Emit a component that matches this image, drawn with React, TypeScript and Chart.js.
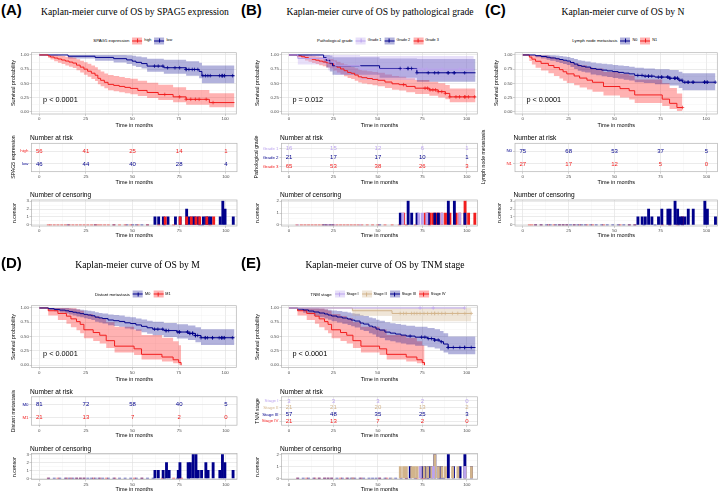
import React, { useEffect, useRef } from 'react';
import { Chart, registerables } from 'chart.js';

Chart.register(...registerables);

const SANS = '"Liberation Sans", Arial, Helvetica, sans-serif';
const SERIF = '"Liberation Serif", "Times New Roman", Times, serif';

// ---------- shared axes ----------
const X_MIN = -4.2;
const X_MAX = 106;
const timeTicks = [0, 12.5, 25, 37.5, 50, 62.5, 75, 87.5, 100];
const survTicks = [0, 0.125, 0.25, 0.375, 0.5, 0.625, 0.75, 0.875, 1];
const riskTimes = [0, 25, 50, 75, 100];

// ---------- (A) SPAG5 expression ----------
const highT = [0, 4.8, 6, 8, 10, 12, 14, 16, 18, 20, 22, 24, 26, 28, 30, 31.5, 33, 35, 37, 40, 43, 46, 49, 53, 58, 64, 72, 79, 91.5, 105];
const highS = [1, .982, .964, .946, .929, .911, .893, .875, .857, .821, .786, .75, .714, .679, .643, .589, .554, .518, .482, .464, .446, .429, .411, .375, .339, .304, .262, .219, .161, .161];
const highUp = [1, 1, 1, .998, .99, .98, .97, .96, .95, .925, .9, .872, .845, .815, .785, .74, .71, .675, .645, .628, .612, .596, .58, .545, .51, .475, .43, .385, .325, .325];
const highLo = [1, .948, .918, .89, .864, .84, .816, .793, .77, .73, .69, .653, .615, .578, .54, .485, .45, .413, .378, .36, .343, .326, .31, .275, .24, .205, .165, .125, .08, .08];
const highCens = [67.5, 75.5, 79, 81.5, 84, 86, 89.8, 93.5];
const highRisk = [56, 41, 25, 14, 1];

const lowT = [0, 15.5, 30, 40, 47, 50, 52, 55, 58, 67, 79, 86, 87.5, 105];
const lowS = [1, .978, .957, .935, .913, .891, .87, .848, .804, .775, .745, .71, .635, .635];
const lowUp = [1, 1, 1, 1, .995, .985, .975, .962, .935, .915, .89, .865, .815, .815];
const lowLo = [1, .936, .9, .868, .84, .812, .786, .76, .706, .67, .635, .59, .5, .5];
const lowCens = [62, 64, 66.5, 69, 73, 75.5, 79, 79, 80.5, 82.3, 83.5, 85.3, 88, 89.4, 90.7, 92, 97, 98.4, 98.4, 98.4, 99.6, 99.6, 104];
const lowRisk = [46, 44, 40, 28, 4];

// ---------- (B) Pathological grade ----------
const g1T = [0, 5, 22, 26, 40, 104];
const g1S = [1, .938, .875, .813, .75, .75];
const g1Up = [1, 1, 1, 1, .98, .98];
const g1Lo = [1, .83, .73, .65, .56, .56];
const g1Cens = [64, 73, 75, 77.5, 86, 96];
const g1Risk = [16, 15, 12, 6, 1];

const g2T = [0, 19.5, 21, 23, 24.5, 51, 72, 105];
const g2S = [1, .952, .905, .857, .81, .762, .686, .686];
const g2Up = [1, 1, 1, .99, .96, .94, .93, .93];
const g2Lo = [1, .86, .78, .71, .65, .6, .53, .53];
const g2Cens = [62.6, 67, 67, 69, 72, 78.4, 82, 84, 89.6, 89.6, 93, 93, 98.9];
const g2Risk = [21, 17, 17, 10, 1];

const g3T = [0, 4.5, 7, 9, 11, 13, 15, 17, 19, 21, 23, 25, 27, 29, 31, 33, 35, 37, 39, 41, 44, 47, 50, 54, 58, 62, 66, 71, 79, 84, 88, 90.5, 105];
const g3S = [1, .985, .969, .954, .938, .923, .908, .892, .877, .862, .846, .815, .785, .754, .723, .692, .677, .646, .615, .6, .585, .569, .554, .523, .492, .477, .446, .415, .385, .354, .323, .262, .262];
const g3Up = [1, 1, 1, .998, .99, .982, .973, .963, .952, .94, .93, .905, .88, .855, .83, .805, .79, .765, .74, .727, .713, .7, .685, .657, .63, .616, .588, .56, .53, .5, .47, .41, .41];
const g3Lo = [1, .955, .928, .904, .882, .86, .84, .82, .8, .78, .762, .727, .693, .66, .627, .594, .578, .546, .514, .498, .482, .466, .45, .418, .388, .372, .342, .312, .28, .25, .22, .165, .165];
const g3Cens = [64.5, 76.6, 78, 79.4, 81, 82.5, 84, 86, 88, 90.5, 94, 96, 99, 99, 101, 104.5];
const g3Risk = [65, 53, 38, 26, 3];

// ---------- (C) N ----------
const n0T = [0, 7, 10, 13, 15, 18, 20, 22, 24, 26, 28, 30, 32, 34, 37, 40, 43, 46, 49, 52, 55, 58, 61, 66, 72, 80, 85, 87, 105];
const n0S = [1, .987, .973, .96, .947, .933, .92, .907, .893, .867, .84, .813, .8, .787, .76, .747, .733, .72, .707, .693, .68, .667, .64, .627, .61, .59, .555, .52, .52];
const n0Up = [1, 1, 1, 1, .997, .99, .982, .974, .966, .948, .928, .907, .897, .887, .866, .856, .845, .835, .825, .814, .804, .794, .773, .763, .75, .735, .705, .68, .68];
const n0Lo = [1, .962, .94, .917, .897, .877, .858, .84, .822, .788, .754, .72, .705, .689, .657, .642, .626, .611, .596, .58, .565, .55, .52, .505, .485, .46, .42, .38, .38];
const n0Cens = [62.7, 65, 66.7, 68.5, 68.5, 70.3, 73.9, 75.7, 75.7, 79, 79, 80.2, 80.2, 82.9, 82.9, 82.9, 84.3, 84.3, 85.6, 86.8, 88.3, 90.1, 90.1, 92.8, 92.8, 99.1, 99.1, 99.1, 100.5, 100.5, 104.9];
const n0Risk = [75, 68, 53, 37, 5];

const n1T = [0, 3.6, 5, 7, 10, 14, 17, 20, 22, 24, 28, 31, 35, 38, 44, 53, 58, 61, 76, 80, 84, 87];
const n1S = [1, .963, .926, .889, .852, .815, .778, .741, .704, .667, .63, .593, .556, .519, .444, .407, .37, .296, .222, .148, .074, .074];
const n1Up = [1, 1, 1, 1, .99, .97, .95, .93, .9, .88, .85, .82, .79, .76, .7, .67, .64, .57, .5, .42, .32, .32];
const n1Lo = [1, .893, .83, .775, .725, .677, .63, .587, .545, .504, .465, .427, .39, .354, .285, .25, .215, .155, .1, .05, .015, .015];
const n1Cens = [87];
const n1Risk = [27, 17, 12, 5, 0];

// ---------- (D) M ----------
const m0T = [0, 5, 8, 11, 14, 16, 18, 20, 22, 24, 26, 28, 30, 32, 34, 37, 40, 43, 46, 49, 52, 55, 58, 61, 67, 74, 80, 84, 87, 105];
const m0S = [1, .988, .975, .963, .951, .938, .926, .914, .901, .889, .877, .864, .84, .827, .815, .79, .778, .765, .741, .728, .704, .679, .654, .63, .605, .58, .556, .52, .48, .48];
const m0Up = [1, 1, 1, 1, 1, .992, .985, .977, .968, .96, .951, .942, .924, .914, .905, .886, .877, .867, .848, .838, .818, .798, .778, .758, .737, .715, .694, .663, .628, .628];
const m0Lo = [1, .964, .942, .922, .904, .886, .87, .853, .837, .821, .806, .79, .76, .745, .73, .7, .686, .671, .643, .629, .602, .575, .548, .522, .495, .468, .442, .4, .355, .355];
const m0Cens = [62, 63.8, 66.4, 68.2, 68.2, 69.6, 74.5, 75.4, 75.4, 79.8, 79.8, 81, 81, 82.5, 82.5, 82.5, 84, 84, 84, 85.2, 87, 89.3, 89.3, 90.5, 93.2, 93.2, 96.8, 98.2, 98.2, 98.2, 99.5, 99.5, 103.9];
const m0Risk = [81, 72, 58, 40, 5];

const m1T = [0, 4.8, 10, 14.6, 17, 20, 22, 24, 29, 32.5, 36, 40.5, 51, 55, 66, 72, 75, 76.3];
const m1S = [1, .952, .905, .857, .81, .762, .714, .619, .571, .524, .429, .333, .286, .19, .143, .095, .048, 0];
const m1Up = [1, 1, 1, 1, .995, .975, .95, .895, .86, .825, .75, .67, .625, .53, .48, .42, .35, .35];
const m1Lo = [1, .87, .79, .725, .665, .61, .56, .47, .425, .38, .3, .22, .18, .1, .065, .035, .01, 0];
const m1Cens = [];
const m1Risk = [21, 13, 7, 2, 0];

// ---------- (E) TNM stage ----------
const s1T = [0, 98.9];
const s1S = [1, 1];
const s1Up = [1, 1];
const s1Lo = [1, 1];
const s1Cens = [73.8, 81.2, 98.9];
const s1Risk = [3, 3, 3, 2, 0];

const s2T = [0, 35.7, 58, 102.6];
const s2S = [1, .952, .905, .905];
const s2Up = [1, 1, 1, 1];
const s2Lo = [1, .866, .77, .77];
const s2Cens = [62.6, 64.5, 66, 69, 70.5, 72, 73.8, 76, 78, 80.3, 82, 82, 84, 86, 88, 92, 95, 99, 102.6];
const s2Risk = [21, 21, 20, 13, 2];

const s3T = [0, 5, 8, 11, 14, 17, 20, 22, 24, 27, 30, 33, 35, 37, 40, 42, 45, 47, 49, 51, 54, 57, 60, 63, 66, 71, 78, 82, 85, 87, 89.6, 105];
const s3S = [1, .982, .965, .947, .93, .912, .895, .877, .86, .842, .825, .807, .789, .772, .737, .719, .684, .667, .632, .614, .579, .561, .544, .526, .509, .49, .465, .44, .41, .37, .31, .31];
const s3Up = [1, 1, 1, 1, 1, .99, .98, .968, .957, .946, .935, .922, .91, .898, .873, .86, .834, .82, .793, .779, .75, .735, .72, .705, .69, .673, .65, .628, .6, .56, .5, .5];
const s3Lo = [1, .948, .918, .89, .864, .84, .816, .793, .77, .748, .726, .703, .682, .661, .618, .598, .557, .537, .497, .477, .438, .418, .399, .38, .36, .34, .314, .29, .258, .22, .19, .19];
const s3Cens = [68.2, 74.6, 76.5, 78.4, 80.2, 82, 82, 84, 85.8, 89.6, 89.6, 92.5, 96.2, 98.9, 98.9, 102.6];
const s3Risk = [57, 48, 35, 25, 3];

const s4T = m1T;
const s4S = m1S;
const s4Up = m1Up;
const s4Lo = m1Lo;
const s4Cens = m1Cens;
const s4Risk = [21, 13, 7, 2, 0];

// ---------- colours ----------
const RED = '#F21D1D';
const BLUE = '#00008B';
const LAV = '#BBA3EE';
const TAN = '#D2B48C';
const RED_BAND = 'rgba(255,0,0,0.3)';
const BLUE_BAND = 'rgba(0,0,139,0.3)';
const LAV_BAND = 'rgba(187,163,238,0.35)';
const TAN_BAND = 'rgba(210,180,140,0.35)';
const GRID_MAJOR = '#DEDEDE';
const GRID_MINOR = '#EFEFEF';
const TICK_COL = '#B3B3B3';

function grp(name, color, band, t, s, up, lo, cens, risk) {
  return { name, color, band, t, s, up, lo, cens, risk };
}

const panels = [
  {
    id: 'A', title: 'Kaplan-meier curve of OS by SPAG5 expression', legendTitle: 'SPAG5 expression', pval: 'p < 0.0001', censMax: 3,
    L: 31.5, R: 237, oy: 0, labelX: 1, titleX: 135, yTitleX: 14, riskTitleX: 14, ncX: 14.5,
    groups: [grp('high', RED, RED_BAND, highT, highS, highUp, highLo, highCens, highRisk), grp('low', BLUE, BLUE_BAND, lowT, lowS, lowUp, lowLo, lowCens, lowRisk)],
  },
  {
    id: 'B', title: 'Kaplan-meier curve of OS by pathological grade', legendTitle: 'Pathological grade', pval: 'p = 0.012', censMax: 2,
    L: 281.5, R: 477.5, oy: 0, labelX: 241, titleX: 380, yTitleX: 258.3, riskTitleX: 256.7, ncX: 258.3,
    groups: [grp('Grade 1', LAV, LAV_BAND, g1T, g1S, g1Up, g1Lo, g1Cens, g1Risk), grp('Grade 2', BLUE, BLUE_BAND, g2T, g2S, g2Up, g2Lo, g2Cens, g2Risk), grp('Grade 3', RED, RED_BAND, g3T, g3S, g3Up, g3Lo, g3Cens, g3Risk)],
  },
  {
    id: 'C', title: 'Kaplan-meier curve of OS by N', legendTitle: 'Lymph node metastasis', pval: 'p < 0.0001', censMax: 3,
    L: 515, R: 717.5, oy: 0, labelX: 485, titleX: 623, yTitleX: 496.7, riskTitleX: 484, ncX: 500,
    groups: [grp('N0', BLUE, BLUE_BAND, n0T, n0S, n0Up, n0Lo, n0Cens, n0Risk), grp('N1', RED, RED_BAND, n1T, n1S, n1Up, n1Lo, n1Cens, n1Risk)],
  },
  {
    id: 'D', title: 'Kaplan-meier curve of OS by M', legendTitle: 'Distant metastasis', pval: 'p < 0.0001', censMax: 3,
    L: 31.5, R: 237, oy: 253.5, labelX: 1, titleX: 137.5, yTitleX: 14, riskTitleX: 14, ncX: 14.5,
    groups: [grp('M0', BLUE, BLUE_BAND, m0T, m0S, m0Up, m0Lo, m0Cens, m0Risk), grp('M1', RED, RED_BAND, m1T, m1S, m1Up, m1Lo, m1Cens, m1Risk)],
  },
  {
    id: 'E', title: 'Kaplan-meier curve of OS by TNM stage', legendTitle: 'TNM stage', pval: 'p < 0.0001', censMax: 2,
    L: 281.5, R: 477.5, oy: 253.5, labelX: 241, titleX: 385, yTitleX: 258.3, riskTitleX: 258.3, ncX: 258.3,
    groups: [
      grp('Stage I', LAV, LAV_BAND, s1T, s1S, s1Up, s1Lo, s1Cens, s1Risk),
      grp('Stage II', TAN, TAN_BAND, s2T, s2S, s2Up, s2Lo, s2Cens, s2Risk),
      grp('Stage III', BLUE, BLUE_BAND, s3T, s3S, s3Up, s3Lo, s3Cens, s3Risk),
      grp('Stage IV', RED, RED_BAND, s4T, s4S, s4Up, s4Lo, s4Cens, s4Risk),
    ],
  },
];

// ---------- helpers ----------
function survAt(g, x) {
  let v = 1;
  for (let i = 0; i < g.t.length; i++) if (g.t[i] <= x) v = g.s[i];
  return v;
}

function censorBars(g) {
  const m = new Map();
  g.t.forEach((x, i) => { if (i > 0 && g.s[i] < g.s[i - 1]) m.set(x, 0); });
  g.cens.forEach((x) => m.set(x, (m.get(x) || 0) + 1));
  return Array.from(m.entries()).map(([x, y]) => ({ x, y }));
}

function faint(hex) {
  const r = parseInt(hex.slice(1, 3), 16), gg = parseInt(hex.slice(3, 5), 16), b = parseInt(hex.slice(5, 7), 16);
  return `rgba(${r},${gg},${b},0.35)`;
}

function frame(L, T, R, B, ml, mb) {
  const left = Math.floor(L - ml);
  const top = Math.floor(T - 4);
  const right = Math.ceil(R + 4);
  const bottom = Math.ceil(B + mb);
  return { left, top, width: right - left, height: bottom - top, yW: L - left, xH: bottom - B, padTop: T - top, padRight: right - R };
}

function axis(min, max, values, major, label, fit) {
  return {
    type: 'linear', min, max, offset: false,
    afterBuildTicks: (s) => { s.ticks = values.map((v) => ({ value: v })); },
    afterFit: fit,
    border: { display: false },
    grid: {
      offset: false,
      color: (c) => (c.tick ? (major(c.tick.value) ? GRID_MAJOR : GRID_MINOR) : 'rgba(0,0,0,0)'),
      lineWidth: (c) => (c.tick && major(c.tick.value) ? 0.6 : 0.35),
      tickLength: 2,
      tickWidth: 0.6,
      tickColor: (c) => (c.tick && major(c.tick.value) ? TICK_COL : 'rgba(0,0,0,0)'),
    },
    ticks: {
      autoSkip: false, maxRotation: 0, minRotation: 0, padding: 0.5, color: '#4D4D4D',
      font: { family: SANS, size: 4.4 },
      callback: (v) => (major(v) ? label(v) : ''),
    },
  };
}

const isMajorTime = (v) => Math.abs(v % 25) < 1e-6;
const xAxis = (f) => axis(X_MIN, X_MAX, timeTicks, isMajorTime, (v) => String(v), (s) => { s.height = f.xH; });

const borderPlugin = {
  id: 'panelBorder',
  afterDatasetsDraw(chart) {
    const { ctx, chartArea: a } = chart;
    ctx.save();
    ctx.strokeStyle = TICK_COL;
    ctx.lineWidth = 0.7;
    ctx.strokeRect(a.left, a.top, a.right - a.left, a.bottom - a.top);
    ctx.restore();
  },
};

function common(f) {
  return {
    animation: false, responsive: false, devicePixelRatio: 1, events: [],
    layout: { padding: { top: f.padTop, right: f.padRight, left: 0, bottom: 0 } },
    plugins: { legend: { display: false }, tooltip: { enabled: false }, filler: { drawTime: 'beforeDatasetsDraw' } },
  };
}

function kmChart(groups, f) {
  const datasets = [];
  groups.forEach((g) => {
    datasets.push({ data: g.t.map((x, i) => ({ x, y: g.up[i] })), stepped: 'before', borderColor: 'rgba(0,0,0,0)', borderWidth: 0, pointRadius: 0, fill: '+1', backgroundColor: g.band, order: 3 });
    datasets.push({ data: g.t.map((x, i) => ({ x, y: g.lo[i] })), stepped: 'before', borderColor: 'rgba(0,0,0,0)', borderWidth: 0, pointRadius: 0, fill: false, order: 3 });
  });
  groups.forEach((g) => {
    datasets.push({ data: g.t.map((x, i) => ({ x, y: g.s[i] })), stepped: 'before', borderColor: g.color, borderWidth: 1, pointRadius: 0, fill: false, order: 2 });
    datasets.push({ data: g.cens.map((x) => ({ x, y: survAt(g, x) })), showLine: false, pointStyle: 'cross', pointRadius: 1.8, borderColor: g.color, borderWidth: 0.7, order: 1 });
  });
  const majorY = (v) => Math.abs(v * 4 - Math.round(v * 4)) < 1e-6;
  return {
    type: 'line',
    data: { datasets },
    options: {
      ...common(f),
      scales: {
        x: xAxis(f),
        y: axis(-0.04, 1.04, survTicks, majorY, (v) => v.toFixed(2), (s) => { s.width = f.yW; }),
      },
    },
    plugins: [borderPlugin],
  };
}

function riskChart(groups, f) {
  const n = groups.length;
  const textPlugin = {
    id: 'riskText',
    afterDatasetsDraw(chart) {
      const ctx = chart.ctx;
      ctx.save();
      ctx.font = `6px ${SANS}`;
      ctx.textAlign = 'center';
      ctx.textBaseline = 'middle';
      chart.data.datasets.forEach((ds, di) => {
        const meta = chart.getDatasetMeta(di);
        ctx.fillStyle = groups[di].color;
        meta.data.forEach((el, i) => ctx.fillText(String(ds.data[i].n), el.x, el.y));
      });
      ctx.restore();
    },
  };
  return {
    type: 'scatter',
    data: { datasets: groups.map((g, gi) => ({ data: riskTimes.map((x, i) => ({ x, y: gi + 1, n: g.risk[i] })), pointRadius: 0 })) },
    options: {
      ...common(f),
      scales: {
        x: xAxis(f),
        y: {
          type: 'linear', reverse: true, min: 0.4, max: n + 0.6,
          afterBuildTicks: (s) => { s.ticks = groups.map((_, i) => ({ value: i + 1 })); },
          afterFit: (s) => { s.width = f.yW; },
          border: { display: false },
          grid: { color: GRID_MAJOR, lineWidth: 0.6, tickLength: 2, tickWidth: 0.6, tickColor: TICK_COL },
          ticks: {
            autoSkip: false, padding: 1, font: { family: SANS, size: 4.4 },
            color: (c) => (groups[c.index] ? groups[c.index].color : '#000'),
            callback: (v) => (groups[Math.round(v) - 1] ? groups[Math.round(v) - 1].name : ''),
          },
        },
      },
    },
    plugins: [borderPlugin, textPlugin],
  };
}

function censorChart(groups, max, f) {
  const yt = [];
  for (let v = 0; v <= max + 1e-9; v += 0.5) yt.push(v);
  return {
    type: 'bar',
    data: {
      datasets: groups.map((g) => ({
        data: censorBars(g),
        backgroundColor: (c) => (c.raw && c.raw.y === 0 ? faint(g.color) : g.color),
        barThickness: 2.2, minBarLength: 1, grouped: false,
      })),
    },
    options: {
      ...common(f),
      scales: {
        x: xAxis(f),
        y: axis(-0.05 * max, max * 1.05, yt, (v) => Number.isInteger(v), (v) => String(v), (s) => { s.width = f.yW; }),
      },
    },
    plugins: [borderPlugin],
  };
}

// ---------- components ----------
function ChartBox({ f, build }) {
  const ref = useRef(null);
  useEffect(() => {
    const chart = new Chart(ref.current, build());
    return () => chart.destroy();
  }, []);
  return <canvas ref={ref} width={f.width} height={f.height} style={{ position: 'absolute', left: f.left, top: f.top, width: f.width, height: f.height }} />;
}

function Txt({ x, y, size, children, anchor = 'middle', rot = 0, family = SANS, weight = 400, color = '#000' }) {
  const tx = anchor === 'start' ? '0' : anchor === 'end' ? '-100%' : '-50%';
  return (
    <div style={{ position: 'absolute', left: x, top: y, transform: `translate(${tx},-50%) rotate(${rot}deg)`, whiteSpace: 'nowrap', fontSize: size, fontFamily: family, fontWeight: weight, color, lineHeight: 1 }}>
      {children}
    </div>
  );
}

function Swatch({ g }) {
  return (
    <span style={{ position: 'relative', display: 'inline-block', width: 10, height: 7, background: g.band, margin: '0 2px 0 0' }}>
      <span style={{ position: 'absolute', left: 0, right: 0, top: 3, height: 1, background: g.color }} />
      <span style={{ position: 'absolute', left: 4.5, top: 1.5, width: 1, height: 4, background: g.color }} />
    </span>
  );
}

function Legend({ x, y, title, groups }) {
  return (
    <div style={{ position: 'absolute', left: x, top: y, transform: 'translate(-50%,-50%)', display: 'flex', alignItems: 'center', whiteSpace: 'nowrap', fontFamily: SANS, fontSize: 4.3, lineHeight: 1 }}>
      <span style={{ marginRight: 3 }}>{title}</span>
      {groups.map((g) => (
        <span key={g.name} style={{ display: 'flex', alignItems: 'center', marginRight: 3 }}>
          <Swatch g={g} />
          <span style={{ fontSize: 3.8 }}>{g.name}</span>
        </span>
      ))}
    </div>
  );
}

function Panel({ p }) {
  const { L, R, oy } = p;
  const km = frame(L, 52 + oy, R, 114 + oy, 16, 9);
  const rk = frame(L, 143.3 + oy, R, 171.7 + oy, 24, 9);
  const cs = frame(L, 200 + oy, R, 226 + oy, 12, 9);
  const cx = (L + R) / 2;
  const px = L + ((2 - X_MIN) / (X_MAX - X_MIN)) * (R - L);
  return (
    <>
      <Txt x={p.labelX} y={8.8 + oy} size={15} weight={700} anchor="start">{`(${p.id})`}</Txt>
      <Txt x={p.titleX} y={11.7 + oy} size={9.6} family={SERIF}>{p.title}</Txt>
      <Legend x={cx} y={40.7 + oy} title={p.legendTitle} groups={p.groups} />
      <ChartBox f={km} build={() => kmChart(p.groups, km)} />
      <Txt x={p.yTitleX} y={83 + oy} size={5.5} rot={-90}>Survival probability</Txt>
      <Txt x={cx} y={126 + oy} size={5.5}>Time in months</Txt>
      <Txt x={px} y={100 + oy} size={7.3} anchor="start">{p.pval}</Txt>
      <Txt x={L - 1.5} y={138.3 + oy} size={6.6} anchor="start">Number at risk</Txt>
      <ChartBox f={rk} build={() => riskChart(p.groups, rk)} />
      <Txt x={p.riskTitleX} y={157 + oy} size={5.2} rot={-90}>{p.legendTitle}</Txt>
      <Txt x={cx} y={182.5 + oy} size={5.5}>Time in months</Txt>
      <Txt x={L - 1.5} y={195 + oy} size={6.6} anchor="start">Number of censoring</Txt>
      <ChartBox f={cs} build={() => censorChart(p.groups, p.censMax, cs)} />
      <Txt x={p.ncX} y={213 + oy} size={5.2} rot={-90}>n.censor</Txt>
      <Txt x={cx} y={236 + oy} size={5.5}>Time in months</Txt>
    </>
  );
}

export default function App() {
  return (
    <div style={{ position: 'absolute', left: 0, top: 0, width: 720, height: 492, background: '#fff', overflow: 'hidden' }}>
      {panels.map((p) => (
        <Panel key={p.id} p={p} />
      ))}
    </div>
  );
}
